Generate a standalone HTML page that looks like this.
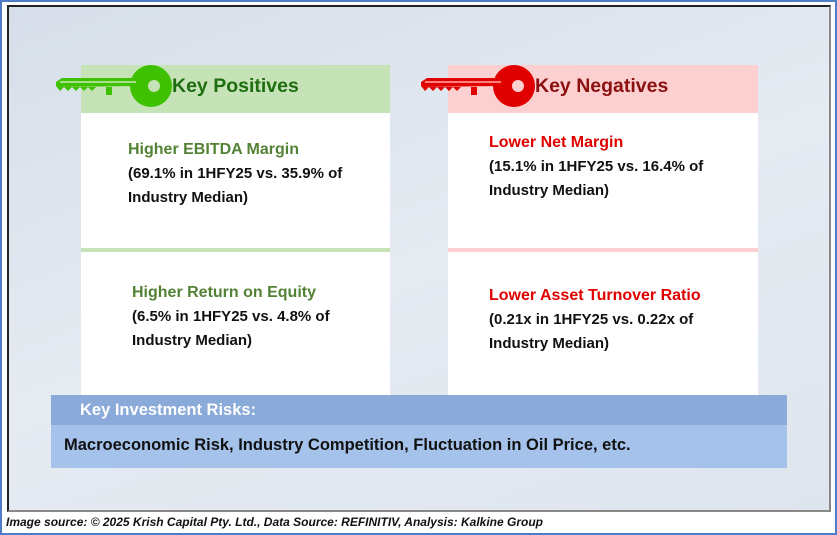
<!DOCTYPE html>
<html><head><meta charset="utf-8"><style>
body{margin:0;width:837px;height:535px;overflow:hidden;background:#fff;font-family:"Liberation Sans",sans-serif;position:relative}
.abs{position:absolute}
.t{position:absolute;font-weight:bold;white-space:nowrap;font-size:15px;line-height:23.5px}
</style></head><body>
<div class="abs" style="left:0;top:0;width:833px;height:531px;border:2px solid #4f7cc4"></div>
<div class="abs" style="left:7px;top:5px;width:820px;height:503px;border:2px solid #222;border-right-color:#888;border-bottom-color:#888;background:linear-gradient(160deg,#d6dee9 0%,#e6ebf2 50%,#dfe5ee 100%)"></div>

<div class="abs" style="left:81px;top:65px;width:309px;height:48px;background:#c5e3b7"></div>
<div class="abs" style="left:81px;top:113px;width:309px;height:282px;background:#fff"></div>
<div class="abs" style="left:81px;top:248px;width:309px;height:4px;background:#c5e3b7"></div>

<div class="abs" style="left:448px;top:65px;width:310px;height:48px;background:#fcd0d0"></div>
<div class="abs" style="left:448px;top:113px;width:310px;height:282px;background:#fff"></div>
<div class="abs" style="left:448px;top:248px;width:310px;height:4px;background:#fcd0d0"></div>

<svg class="abs" style="left:50px;top:60px" width="130" height="52">
<path d="M6,22 L12,18 L82,18 L82,26 L6,26 Z M6,26 L10,31 L14,27 L18,31 L22,27 L26,31 L30,27 L34,31 L38,27 L42,31 L46,27 L56,27 L56,35 L62,35 L62,27 L86,27 Z" fill="#3fc000"/>
<circle cx="101" cy="26" r="21" fill="#3fc000"/><circle cx="104" cy="26" r="6" fill="#c5e3b7"/>
<rect x="10" y="21" width="76" height="2" fill="#a6e08a"/>
</svg>
<svg class="abs" style="left:415px;top:60px" width="130" height="52">
<path d="M6,22 L12,18 L82,18 L82,26 L6,26 Z M6,26 L10,31 L14,27 L18,31 L22,27 L26,31 L30,27 L34,31 L38,27 L42,31 L46,27 L56,27 L56,35 L62,35 L62,27 L86,27 Z" fill="#e00000"/>
<circle cx="99" cy="26" r="21" fill="#e00000"/><circle cx="103" cy="26" r="6" fill="#fcd0d0"/>
<rect x="10" y="21" width="76" height="2" fill="#ff8080"/>
</svg>

<div class="t" style="left:172px;top:75px;font-size:19.5px;color:#1e6e10">Key Positives</div>
<div class="t" style="left:535px;top:75px;font-size:19.5px;color:#8b1010">Key Negatives</div>

<div class="t" style="left:128px;top:138px;font-size:16px;color:#548235">Higher EBITDA Margin</div>
<div class="t" style="left:128px;top:162px;color:#111">(69.1% in 1HFY25 vs. 35.9% of<br>Industry Median)</div>

<div class="t" style="left:132px;top:281px;font-size:16px;color:#548235">Higher Return on Equity</div>
<div class="t" style="left:132px;top:305px;color:#111">(6.5% in 1HFY25 vs. 4.8% of<br>Industry Median)</div>

<div class="t" style="left:489px;top:131px;font-size:16px;color:#e00000">Lower Net Margin</div>
<div class="t" style="left:489px;top:155px;color:#111">(15.1% in 1HFY25 vs. 16.4% of<br>Industry Median)</div>

<div class="t" style="left:489px;top:284px;font-size:16px;color:#e00000">Lower Asset Turnover Ratio</div>
<div class="t" style="left:489px;top:308px;color:#111">(0.21x in 1HFY25 vs. 0.22x of<br>Industry Median)</div>

<div class="abs" style="left:51px;top:395px;width:736px;height:30px;background:#8aaad9"></div>
<div class="abs" style="left:51px;top:425px;width:736px;height:43px;background:#a4c2ea"></div>
<div class="t" style="left:80px;top:399px;font-size:16.5px;color:#fff">Key Investment Risks:</div>
<div class="t" style="left:64px;top:434px;font-size:16.5px;color:#111">Macroeconomic Risk, Industry Competition, Fluctuation in Oil Price, etc.</div>

<div class="t" style="left:6px;top:513px;font-size:12px;line-height:18px;font-style:italic;color:#111">Image source: © 2025 Krish Capital Pty. Ltd., Data Source: REFINITIV, Analysis: Kalkine Group</div>
</body></html>
